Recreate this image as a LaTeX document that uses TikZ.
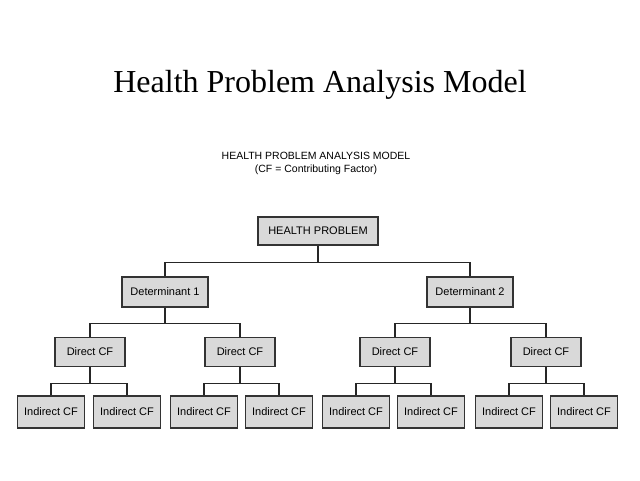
\documentclass[tikz,border=0pt]{standalone}
\usepackage{fontspec}
\setmainfont{Liberation Serif}
\newfontfamily\boxfont{Liberation Sans}
\begin{document}
\begin{tikzpicture}[x=1pt,y=-1pt,
  bx/.style={draw=black!80,fill=black!15,line width=1.3pt,minimum height=28pt,inner sep=0pt,font=\boxfont\fontsize{11}{12}\selectfont},
  ln/.style={line width=1.3pt,black!85}]
\useasboundingbox (0,0) rectangle (640,480);
\node (title) at (320,85) {\fontsize{32}{36}\selectfont Health Problem Analysis Model};
\node[align=center,font=\boxfont\fontsize{10.5}{13}\selectfont] (sub) at (316,163) {HEALTH PROBLEM ANALYSIS MODEL\\(CF = Contributing Factor)};
\node[bx,minimum width=120pt] (hp) at (318,231) {HEALTH PROBLEM};
\node[bx,minimum width=86pt,minimum height=30pt] (d1) at (165,292) {Determinant 1};
\node[bx,minimum width=86pt,minimum height=30pt] (d2) at (470,292) {Determinant 2};
\foreach \n/\x in {c1/90,c2/240,c3/395,c4/546}
  \node[bx,minimum width=70pt,minimum height=29pt] (\n) at (\x,352) {Direct CF};
\foreach \n/\x in {i1/51,i2/127,i3/204,i4/279,i5/356,i6/431,i7/509,i8/584}
  \node[bx,minimum width=67pt,minimum height=32pt] (\n) at (\x,412) {Indirect CF};
\draw[ln] (hp.south) -- ++(0,17) coordinate (h1);
\draw[ln] (d1.north) |- (h1) -| (d2.north);
\foreach \p/\a/\b in {d1/c1/c2,d2/c3/c4,c1/i1/i2,c2/i3/i4,c3/i5/i6,c4/i7/i8}{
  \draw[ln] (\p.south) -- ++(0,16) coordinate (m);
  \draw[ln] (\a.north) |- (m) -| (\b.north);
}
\end{tikzpicture}
\end{document}
